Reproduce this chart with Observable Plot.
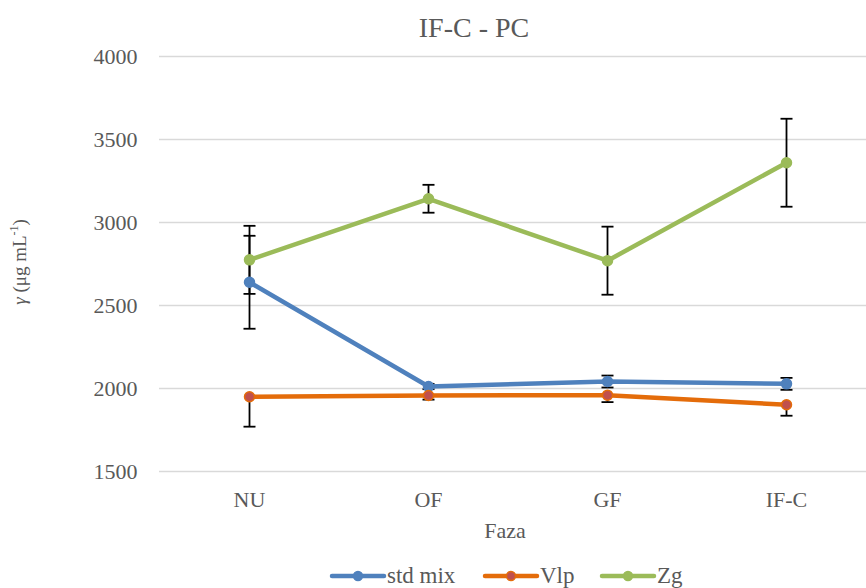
<!DOCTYPE html>
<html>
<head>
<meta charset="utf-8">
<script src="https://cdn.jsdelivr.net/npm/d3@7"></script>
<script src="https://cdn.jsdelivr.net/npm/@observablehq/plot@0.6"></script>
<style>
  html, body { margin: 0; padding: 0; background: #fff; overflow: hidden; }
  #chart svg { display: block; }
  #chart svg text { font-family: 'Liberation Serif', 'Times New Roman', serif; }
</style>
</head>
<body>
<div id="chart"></div>
<script>
const categories = ["NU", "OF", "GF", "IF-C"];
const seriesNames = ["std mix", "Vlp", "Zg"];
const stdMix = [2640, 2012, 2042, 2028];
const stdMixErr = [280, 16, 36, 36];
const vlp = [1950, 1958, 1960, 1902];
const vlpErrMinus = [180, 25, 42, 66];
const zg = [2775, 3143, 2770, 3360];
const zgErr = [205, 84, 205, 265];
const yTicks = [1500, 2000, 2500, 3000, 3500, 4000];

const colors = {"std mix": "#4F81BD", "Vlp": "#E46C0A", "Zg": "#9BBB59"};
const markerFill = {"std mix": "#4F81BD", "Vlp": "#C0504D", "Zg": "#9BBB59"};

const rows = [];
categories.forEach((c, i) => {
  rows.push({series: "std mix", cat: c, v: stdMix[i], lo: stdMix[i] - stdMixErr[i], hi: stdMix[i] + stdMixErr[i]});
  rows.push({series: "Vlp", cat: c, v: vlp[i], lo: vlp[i] - vlpErrMinus[i], hi: vlp[i]});
  rows.push({series: "Zg", cat: c, v: zg[i], lo: zg[i] - zgErr[i], hi: zg[i] + zgErr[i]});
});

const capSymbol = {
  draw(ctx, size) { ctx.moveTo(-6, 0); ctx.lineTo(6, 0); }
};

const font = "'Liberation Serif', 'Times New Roman', serif";
const W = 866, H = 588;

const plot = Plot.plot({
  width: W,
  height: H,
  marginTop: 56,
  marginBottom: 117,
  marginLeft: 159,
  marginRight: 0,
  style: {fontFamily: font, fontSize: "22px", color: "#595959", background: "#fff", overflow: "hidden"},
  x: {type: "point", domain: categories, range: [248, 786], padding: 0, label: null},
  y: {domain: [1500, 4000], ticks: yTicks, label: null},
  marks: [
    Plot.gridY(yTicks, {stroke: "#d9d9d9", strokeOpacity: 1, strokeWidth: 1.5}),
    Plot.axisY(yTicks, {tickSize: 0, tickPadding: 22, fill: "#595959", fontSize: 22, tickFormat: d => String(d), fontFamily: font}),
    Plot.axisX({tickSize: 0, tickPadding: 20, fill: "#595959", fontSize: 22, fontFamily: font}),
    Plot.ruleX(rows, {x: "cat", y1: "lo", y2: "hi", stroke: "black", strokeWidth: 1.8}),
    Plot.dot(rows, {x: "cat", y: "lo", symbol: capSymbol, stroke: "black", strokeWidth: 1.8, fill: "none"}),
    Plot.dot(rows.filter(d => d.hi !== d.v), {x: "cat", y: "hi", symbol: capSymbol, stroke: "black", strokeWidth: 1.8, fill: "none"}),
    Plot.line(rows, {x: "cat", y: "v", z: "series", stroke: d => colors[d.series], strokeWidth: 4.5, strokeLinejoin: "round", strokeLinecap: "round"}),
    Plot.dot(rows, {x: "cat", y: "v", r: 5, fill: d => markerFill[d.series], stroke: d => colors[d.series], strokeWidth: 1.5})
  ]
});

const svg = d3.select(plot);
const txt = (x, y, s, size, anchor) => svg.append("text")
  .attr("x", x).attr("y", y).attr("text-anchor", anchor || "middle")
  .attr("font-family", font).attr("font-size", size).attr("fill", "#595959").text(s);

txt(474, 37, "IF-C - PC", 28);
txt(505, 538, "Faza", 22);

// y-axis label with superscript
const yl = svg.append("text")
  .attr("transform", "translate(26,262) rotate(-90)")
  .attr("text-anchor", "middle")
  .attr("font-family", font).attr("font-size", 19).attr("fill", "#595959");
yl.append("tspan").attr("font-style", "italic").text("γ");
yl.append("tspan").text(" (μg mL");
yl.append("tspan").attr("font-size", 12).attr("dy", -8).text("-1");
yl.append("tspan").attr("dy", 8).text(")");

// legend
const legendX = [330, 483, 600];
seriesNames.forEach((s, i) => {
  const g = svg.append("g").attr("transform", `translate(${legendX[i]},576)`);
  g.append("line").attr("x1", 2).attr("x2", 54).attr("y1", 0).attr("y2", 0)
    .attr("stroke", colors[s]).attr("stroke-width", 4.5).attr("stroke-linecap", "round");
  g.append("circle").attr("cx", 28).attr("cy", 0).attr("r", 4.5)
    .attr("fill", markerFill[s]).attr("stroke", colors[s]).attr("stroke-width", 1.5);
  g.append("text").attr("x", 57).attr("y", 7).attr("text-anchor", "start").attr("font-family", font)
    .attr("font-size", 23).attr("fill", "#595959").text(s);
});

document.getElementById("chart").appendChild(plot);
</script>
</body>
</html>
